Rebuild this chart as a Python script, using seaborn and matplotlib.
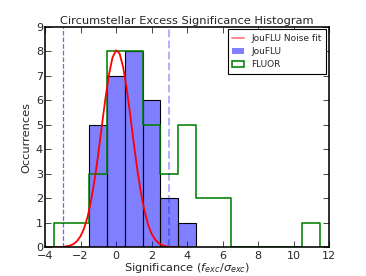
import matplotlib
matplotlib.use("Agg")
import matplotlib.pyplot as plt
from matplotlib.lines import Line2D
from matplotlib.patches import Patch
import seaborn as sns


sns.set_style("ticks", {"xtick.direction": "in", "ytick.direction": "in",
                        "axes.edgecolor": "black"})
plt.rcParams['font.family'] = ['DejaVu Sans']

# histogram bins (width 1, edges on half-integers)
bin_edges = [-4.5, -3.5, -2.5, -1.5, -0.5, 0.5, 1.5, 2.5, 3.5, 4.5, 5.5,
             6.5, 7.5, 8.5, 9.5, 10.5, 11.5, 12.5]
bin_centers = [-4, -3, -2, -1, 0, 1, 2, 3, 4, 5, 6, 7, 8, 9, 10, 11, 12]

# counts
jouflu_counts = [0, 0, 0, 5, 7, 8, 6, 2, 1, 0, 0, 0, 0, 0, 0, 0, 0]
fluor_counts = [0, 1, 1, 3, 8, 8, 5, 3, 5, 2, 2, 0, 0, 0, 0, 1, 0]

# noise fit curve
fit_x = [-3.9, -3.0, -2.6, -2.4, -2.2, -2.0, -1.8, -1.6, -1.4, -1.2, -1.0,
         -0.8, -0.6, -0.4, -0.2, 0.0, 0.2, 0.4, 0.6, 0.8, 1.0, 1.2, 1.4,
         1.6, 1.8, 2.0, 2.2, 2.4, 2.6, 2.8, 3.0, 3.8]
fit_y = [0.0, 0.01, 0.07, 0.13, 0.25, 0.45, 0.77, 1.25, 1.92, 2.78, 3.81,
         4.94, 6.06, 7.04, 7.74, 8.04, 7.91, 7.36, 6.48, 5.40, 4.25, 3.17,
         2.24, 1.50, 0.94, 0.56, 0.32, 0.17, 0.09, 0.04, 0.02, 0.0]

threshold_lo = -3.0
threshold_hi = 3.0

fig = plt.figure(figsize=(3.66, 2.76), dpi=100)
ax = fig.add_axes([0.123, 0.104, 0.776, 0.799])

sns.histplot(x=bin_centers, weights=jouflu_counts, bins=bin_edges,
             color="b", alpha=0.5, edgecolor="k", linewidth=0.8, ax=ax)
sns.histplot(x=bin_centers, weights=fluor_counts, bins=bin_edges,
             element="step", fill=False, color="g", linewidth=1.15,
             zorder=2, ax=ax)
sns.lineplot(x=fit_x, y=fit_y, color="r", linewidth=1.3, zorder=2.2, ax=ax)

ax.axvline(threshold_lo, color="b", ls="--", lw=0.9, alpha=0.6)
ax.axvline(threshold_hi, color="b", ls="--", lw=1.5, alpha=0.3)

ax.set_xlim(-4, 12)
ax.set_ylim(0, 9)
ax.set_xticks(range(-4, 13, 2))
ax.set_yticks(range(0, 10))
ax.tick_params(top=True, right=True, labelsize=8, length=4, width=0.6)
ax.tick_params(axis="y", pad=1.5)
ax.tick_params(axis="x", pad=2.5)
for s in ax.spines.values():
    s.set_linewidth(1.15)
    s.set_zorder(3)

ax.set_title("Circumstellar Excess Significance Histogram", fontsize=8.2, pad=2)
ax.set_xlabel(r"Significance ($f_{exc}/\sigma_{exc}$)", fontsize=8.2, labelpad=0)
ax.set_ylabel("Occurrences", fontsize=8.2, labelpad=3)

handles = [Line2D([], [], color="r", lw=1.3, alpha=0.5),
           Patch(facecolor="b", alpha=0.5, edgecolor="none"),
           Patch(facecolor="white", edgecolor="g", lw=1.15)]
labels = ["JouFLU Noise fit", "JouFLU", "FLUOR"]
leg = ax.legend(handles, labels, loc="upper right", fontsize=6.5,
                fancybox=False, framealpha=1, edgecolor="k",
                borderaxespad=0.3, handlelength=1.3, handletextpad=0.8,
                labelspacing=0.45, borderpad=0.5)
leg.get_frame().set_linewidth(0.8)
leg.set_zorder(5)

fig.savefig("out.png", dpi=100)
